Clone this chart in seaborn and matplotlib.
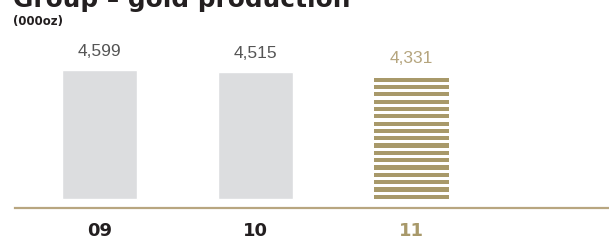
import numpy as np
import pandas as pd
import matplotlib
matplotlib.use("Agg")
import matplotlib.pyplot as plt
import seaborn as sns

# Data
years = ["09", "10", "11"]
production = [4599, 4515, 4331]

GREY = "#dcdddf"
GOLD = "#a8996a"
LABEL_GOLD = "#b5a57e"

sns.set_theme(style="white")
plt.rcParams['font.family'] = ['Liberation Sans', 'DejaVu Sans']

df = pd.DataFrame({"Year": years, "Production": production})

fig = plt.figure(figsize=(6.09, 2.40), dpi=100)
# axes: left edge at the rule start, bottom at the rule
ax = fig.add_axes([15 / 609, 1 - 208 / 240, 1 - 15 / 609, (208 - 40) / 240])

sns.barplot(data=df, x="Year", y="Production", color=GREY, width=0.48,
            saturation=1, ax=ax)

# scale so that bars sit a little above the baseline rule
per_px = max(production) / 129.0
ax.set_ylim(-9 * per_px, (199 - 40) * per_px)
ax.set_xlim(-0.542, 3.266)

# striped last bar (stripes 4px, gaps 3px, full stripes at both ends)
last = ax.patches[-1]
last.set_visible(False)
x0 = last.get_x()
w = last.get_width()
top = last.get_height()
n = int(round(top / per_px / 7))
period = top / (n - 3 / 7)
stripe = period * 4 / 7
for k in range(n):
    b = k * period
    ax.bar(x0, stripe, bottom=b, width=w, align="edge", color=GOLD, linewidth=0)

# value labels
for i, v in enumerate(production):
    col = LABEL_GOLD if i == len(production) - 1 else "#555555"
    ax.annotate(f"{v:,}", (i, v), xytext=(0, 8), textcoords="offset points",
                ha="center", va="bottom", fontsize=12.5, color=col,
                family=["Liberation Sans", "DejaVu Sans"])

# axis styling
for side in ["top", "right", "left"]:
    ax.spines[side].set_visible(False)
ax.spines["bottom"].set_color("#b8a680")
ax.spines["bottom"].set_linewidth(1.6)
ax.set_yticks([])
ax.set_xlabel("")
ax.set_ylabel("")
ax.tick_params(axis="x", length=0, pad=10)
for i, lab in enumerate(ax.get_xticklabels()):
    lab.set_fontsize(13)
    lab.set_fontweight("heavy")
    lab.set_family(["DejaVu Sans"])
    lab.set_color(GOLD if i == len(years) - 1 else "#231f20")

# title, clipped at the top like the reference
fig.text(13 / 609, 1 - 7 / 240, "Group – gold production", fontsize=17.8,
         fontweight="heavy", family=["DejaVu Sans"], color="#231f20",
         va="baseline", ha="left")
fig.text(13 / 609, 1 - 25 / 240, "(000oz)", fontsize=8.5, fontweight="bold",
         family=["DejaVu Sans"], color="#231f20", va="baseline", ha="left")

fig.savefig("out.png", dpi=100)
